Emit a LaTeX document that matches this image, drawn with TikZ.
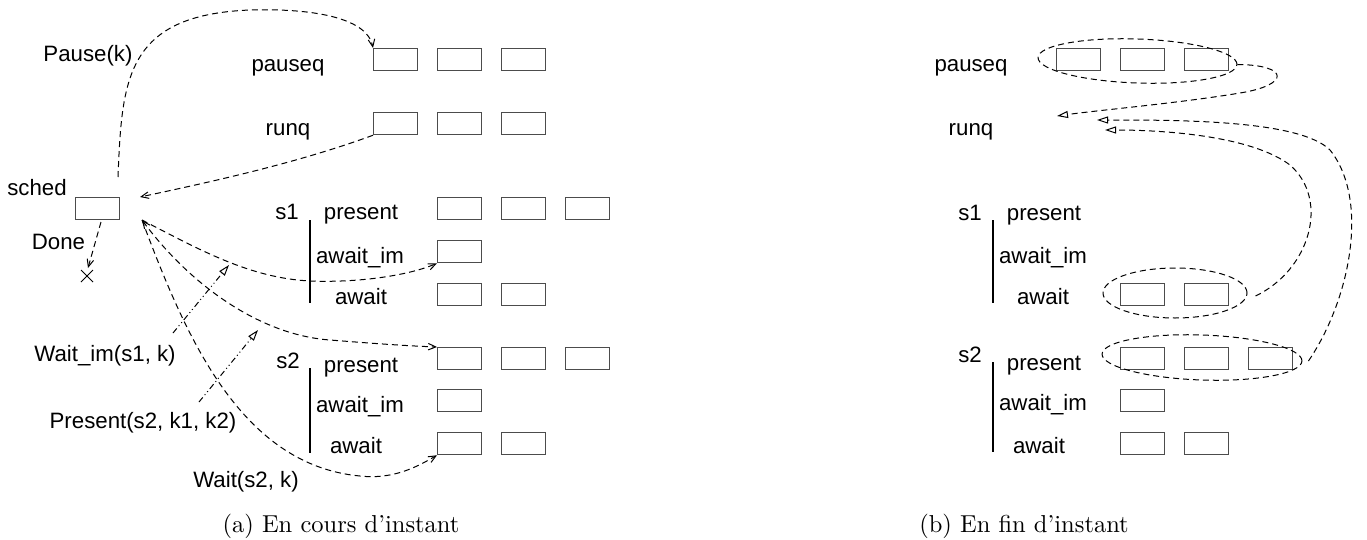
\documentclass[tikz,border=0pt]{standalone}
\usepackage{fontspec}
\newfontfamily\hv{Liberation Sans}
\usetikzlibrary{arrows.meta,calc,shapes.geometric}
\begin{document}
\begin{tikzpicture}[x=0.4pt,y=-0.4pt,
  qbox/.style={draw=black!70,line width=0.5pt,minimum width=17.4pt,minimum height=8.8pt,inner sep=0pt,anchor=north west},
  lbl/.style={font=\hv\fontsize{8.9}{10}\selectfont,inner sep=0pt,anchor=base},
  captxt/.style={font=\fontsize{9.8}{12}\selectfont,inner sep=0pt},
  dsh/.style={line width=0.4pt,dash pattern=on 2.4pt off 1.6pt},
  ddot/.style={line width=0.4pt,dash pattern=on 2.4pt off 1.2pt on 0.4pt off 1.2pt on 0.4pt off 1.2pt},
  barb/.style={-{Straight Barb[length=3pt,width=2.6pt]}},
  tri/.style={-{Triangle[open,length=4.4pt,width=2.8pt]}},
  vbar/.style={line width=0.6pt},
  grp/.style={ellipse,draw,line width=0.4pt,dash pattern=on 2.4pt off 1.6pt,inner sep=0pt}]
\useasboundingbox (0,0) rectangle (1367,540);

% ---------- left panel ----------
\node[qbox] (sched) at (75,197) {};
\node[lbl] (schedl) at (37,195) {sched};

\node[qbox] (lp1) at (373,48) {};
\node[qbox] (lp2) at (437,48) {};
\node[qbox] (lp3) at (501,48) {};
\node[qbox] (lr1) at (373,112) {};
\node[qbox] (lr2) at (437,112) {};
\node[qbox] (lr3) at (501,112) {};
\node[qbox] (la1) at (437,197) {};
\node[qbox] (la2) at (501,197) {};
\node[qbox] (la3) at (565,197) {};
\node[qbox] (lb1) at (437,240) {};
\node[qbox] (lc1) at (437,283) {};
\node[qbox] (lc2) at (501,283) {};
\node[qbox] (ld1) at (437,347) {};
\node[qbox] (ld2) at (501,347) {};
\node[qbox] (ld3) at (565,347) {};
\node[qbox] (le1) at (437,389) {};
\node[qbox] (lf1) at (437,432) {};
\node[qbox] (lf2) at (501,432) {};

\node[lbl] (lpl) at (288,71) {pauseq};
\node[lbl] (lrl) at (288,135) {runq};
\node[lbl] (ls1) at (287,219) {s1};
\node[lbl] (lal) at (361,219) {present};
\node[lbl] (lbl1) at (360,263) {await\_im};
\node[lbl] (lcl) at (361,304) {await};
\node[lbl] (ls2) at (288,368) {s2};
\node[lbl] (ldl) at (361,372) {present};
\node[lbl] (lel) at (360,412) {await\_im};
\node[lbl] (lfl) at (356,453) {await};
\draw[vbar] (310,220) -- (310,303);
\draw[vbar] (310,368) -- (310,453);

\node[lbl] (pausel) at (88,62) {Pause(k)};
\node[lbl] (donel) at (58.5,249) {Done};
\node[lbl] (wiml) at (105,361) {Wait\_im(s1, k)};
\node[lbl] (presl) at (143,428) {Present(s2, k1, k2)};
\node[lbl] (waitl) at (246,487) {Wait(s2, k)};

\coordinate (pauseS) at (118,177);
\coordinate (schedIn) at (140,197);
\coordinate (hub) at (142,220);
\coordinate (doneS) at (101,222);
\coordinate (xm) at (87,276);
\coordinate (doneE) at (88,268);
\coordinate (wimS) at (173,333);
\coordinate (wimE) at (229,265);
\coordinate (presS) at (199,402);
\coordinate (presE) at (258,330);

\draw[dsh,barb] (pauseS) .. controls (122,80) and (125,15) .. (250,10)
   .. controls (320,8) and (368,20) .. (lp1.north west);
\draw[dsh,barb] (lr1.south west) .. controls (300,162) and (220,180) .. (schedIn);
\draw[dsh,barb] (hub) .. controls (200,250) and (250,278) .. (310,281)
   .. controls (360,283) and (410,275) .. (lb1.south west);
\draw[dsh,{Straight Barb[length=3pt,width=2.6pt]}-{Straight Barb[length=3pt,width=2.6pt]}] (hub) .. controls (190,285) and (260,335) .. (330,340)
   .. controls (380,344) and (410,346) .. (ld1.north west);
\draw[dsh,barb] (hub) .. controls (185,335) and (240,465) .. (360,476)
   .. controls (395,480) and (420,465) .. (lf1.south west);
\draw[dsh,barb] (doneS) -- (doneE);
\draw[line width=0.4pt] ($(xm)+(-6,-6)$) -- ($(xm)+(6,6)$) ($(xm)+(-6,6)$) -- ($(xm)+(6,-6)$);
\draw[ddot,tri] (wimS) -- (wimE);
\draw[ddot,tri] (presS) -- (presE);

% ---------- right panel ----------
\node[qbox] (rp1) at (1056,48) {};
\node[qbox] (rp2) at (1120,48) {};
\node[qbox] (rp3) at (1184,48) {};
\node[qbox] (rc1) at (1120,283) {};
\node[qbox] (rc2) at (1184,283) {};
\node[qbox] (rd1) at (1120,347) {};
\node[qbox] (rd2) at (1184,347) {};
\node[qbox] (rd3) at (1248,347) {};
\node[qbox] (re1) at (1120,389) {};
\node[qbox] (rf1) at (1120,432) {};
\node[qbox] (rf2) at (1184,432) {};

\node[lbl] (rpl) at (971,71) {pauseq};
\node[lbl] (rrl) at (971,135) {runq};
\node[lbl] (rs1) at (970,220) {s1};
\node[lbl] (ral) at (1044,220) {present};
\node[lbl] (rbl) at (1043,263) {await\_im};
\node[lbl] (rcl) at (1043,304) {await};
\node[lbl] (rs2) at (970,362) {s2};
\node[lbl] (rdl) at (1044,370) {present};
\node[lbl] (rel) at (1043,410) {await\_im};
\node[lbl] (rfl) at (1039,453) {await};
\draw[vbar] (993,220) -- (993,303);
\draw[vbar] (993,362) -- (993,452);

\node[grp,minimum width=79.6pt,minimum height=17.6pt,rotate=-2] (gP) at (1137.5,61) {};
\node[grp,minimum width=57.6pt,minimum height=20pt] (gA) at (1175,293) {};
\node[grp,minimum width=80pt,minimum height=18pt,rotate=-2] (gD) at (1202,357.5) {};

\coordinate (rq1) at (1057,116);
\coordinate (rq2) at (1097,120);
\coordinate (rq3) at (1105,130);
\draw[dsh,tri] (gP.east) .. controls (1290,65) and (1290,85) .. (1240,93)
   .. controls (1180,103) and (1100,110) .. (rq1);
\draw[dsh,tri] ($(gA.east)+(8,3)$) .. controls (1310,270) and (1330,200) .. (1290,165)
   .. controls (1250,135) and (1160,130) .. (rq3);
\draw[dsh,tri] ($(gD.east)+(6,0)$) .. controls (1350,300) and (1370,200) .. (1330,150)
   .. controls (1300,120) and (1180,120) .. (rq2);

% ---------- captions ----------
\node[captxt] (capa) at (341,526) {(a) En cours d'instant};
\node[captxt] (capb) at (1024,526) {(b) En fin d'instant};
\end{tikzpicture}
\end{document}
